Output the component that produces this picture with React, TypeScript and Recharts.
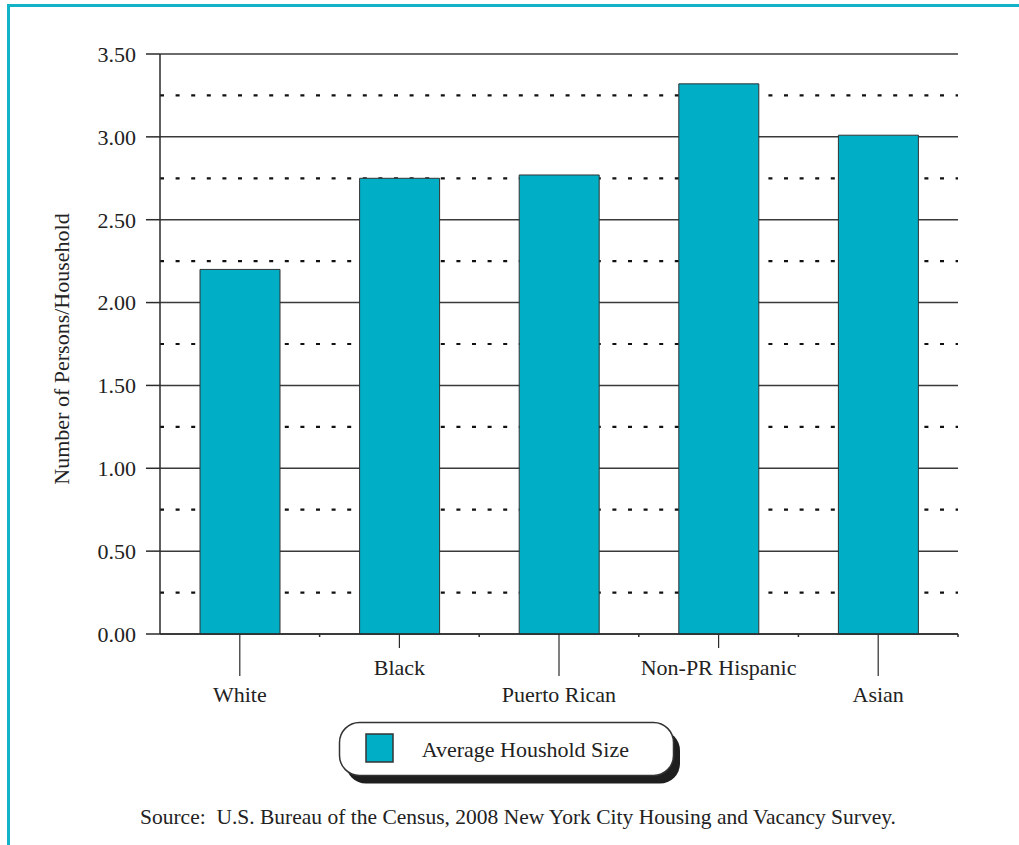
import React from 'react';
import { BarChart, Bar, XAxis, YAxis, CartesianGrid, Legend } from 'recharts';

// Average household size by race/ethnicity, NYC 2008
const categories = ['White', 'Black', 'Puerto Rican', 'Non-PR Hispanic', 'Asian'];
const householdSize = [2.2, 2.75, 2.77, 3.32, 3.01];
const yTicks = [0, 0.5, 1, 1.5, 2, 2.5, 3, 3.5];
const quarterLines = [0.25, 0.75, 1.25, 1.75, 2.25, 2.75, 3.25];

const seriesName = 'Average Houshold Size';
const yAxisTitle = 'Number of Persons/Household';
const sourceNote = 'Source:  U.S. Bureau of the Census, 2008 New York City Housing and Vacancy Survey.';

const data = categories.map((name, i) => ({ name, size: householdSize[i] }));

const W = 1019;
const H = 845;
const FONT = '"Liberation Serif", "Times New Roman", serif';
const BAR_FILL = '#00AEC6';
const INK = '#2b2b2b';

// Category labels alternate between a long and a short leader line
const CategoryTick = (props: any) => {
  const { x, y, payload, index } = props;
  const long = index % 2 === 0;
  const half = payload && payload.offset ? payload.offset : 79.8;
  return (
    <g>
      <line x1={x} y1={y} x2={x} y2={y + (long ? 42 : 14)} stroke={INK} strokeWidth={1.2} />
      <line x1={x + half} y1={y} x2={x + half} y2={y + 3} stroke={INK} strokeWidth={1.5} />
      <text
        x={x}
        y={y + (long ? 68 : 41)}
        textAnchor="middle"
        fill="#222"
        fontFamily={FONT}
        fontSize={22}
      >
        {payload.value}
      </text>
    </g>
  );
};

const YTitle = (props: any) => {
  const vb = props.viewBox || { x: 60, y: 54, width: 100, height: 580 };
  const cx = vb.x + 9;
  const cy = vb.y + vb.height / 2 + 5;
  return (
    <text
      x={cx}
      y={cy}
      transform={`rotate(-90, ${cx}, ${cy})`}
      textAnchor="middle"
      fill="#222"
      fontFamily={FONT}
      fontSize={22}
    >
      {yAxisTitle}
    </text>
  );
};

const LegendBox = (props: any) => {
  const item = (props.payload && props.payload[0]) || { value: seriesName, color: BAR_FILL };
  return (
    <svg width={350} height={70} style={{ display: 'block' }}>
      <rect x={8} y={9.5} width={334} height={53} rx={20} ry={20} fill="#1e1e1e" />
      <rect x={1.5} y={1.5} width={334} height={53} rx={20} ry={20} fill="#fff" stroke="#333" strokeWidth={1.5} />
      <rect x={28} y={13} width={27} height={28} fill={item.color || BAR_FILL} stroke="#333" strokeWidth={1.5} />
      <text x={83.7} y={35.7} fill="#222" fontFamily={FONT} fontSize={22}>
        {item.value}
      </text>
    </svg>
  );
};

export default function App() {
  return (
    <div style={{ position: 'absolute', left: 0, top: 0, width: W, height: H, overflow: 'hidden', background: '#fff' }}>
      <div
        style={{
          position: 'absolute',
          left: 7,
          top: 4,
          width: W - 7,
          height: H - 4,
          borderTop: '3px solid #12B3C7',
          borderLeft: '3px solid #12B3C7',
          boxSizing: 'border-box',
        }}
      />
      <div style={{ position: 'absolute', left: 0, top: 0 }}>
        <BarChart
          width={W}
          height={H}
          data={data}
          margin={{ top: 54, right: 61, left: 60, bottom: 131 }}
          barSize={80}
        >
          <CartesianGrid vertical={false} stroke="#3a3a3a" strokeWidth={1.5} />
          <CartesianGrid
            vertical={false}
            horizontalValues={quarterLines}
            stroke="#111"
            strokeWidth={2.2}
            strokeDasharray="4 11.6"
          />
          <XAxis
            dataKey="name"
            height={80}
            axisLine={{ stroke: INK, strokeWidth: 1.5 }}
            tickLine={false}
            tickSize={0}
            tickMargin={0}
            tick={<CategoryTick />}
            interval={0}
          />
          <YAxis
            width={100}
            domain={[0, 3.5]}
            ticks={yTicks}
            interval={0}
            tickSize={14}
            tickMargin={10}
            axisLine={{ stroke: INK, strokeWidth: 1.5 }}
            tickLine={{ stroke: INK, strokeWidth: 1.5 }}
            tick={{ fill: '#222', fontSize: 22, fontFamily: FONT }}
            tickFormatter={(v: number) => v.toFixed(2)}
            label={<YTitle />}
          />
          <Legend
            layout="horizontal"
            verticalAlign="middle"
            align="center"
            wrapperStyle={{ left: 338, top: 721, width: 350, height: 70 }}
            content={<LegendBox />}
          />
          <Bar
            dataKey="size"
            name={seriesName}
            fill={BAR_FILL}
            stroke="#333"
            strokeWidth={1}
            isAnimationActive={false}
          />
        </BarChart>
      </div>
      <svg width={W} height={H} style={{ position: 'absolute', left: 0, top: 0, pointerEvents: 'none' }}>
        <text
          x={518}
          y={824}
          textAnchor="middle"
          fill="#222"
          fontFamily={FONT}
          fontSize={21.5}
          style={{ whiteSpace: 'pre' }}
        >
          {sourceNote}
        </text>
      </svg>
    </div>
  );
}
